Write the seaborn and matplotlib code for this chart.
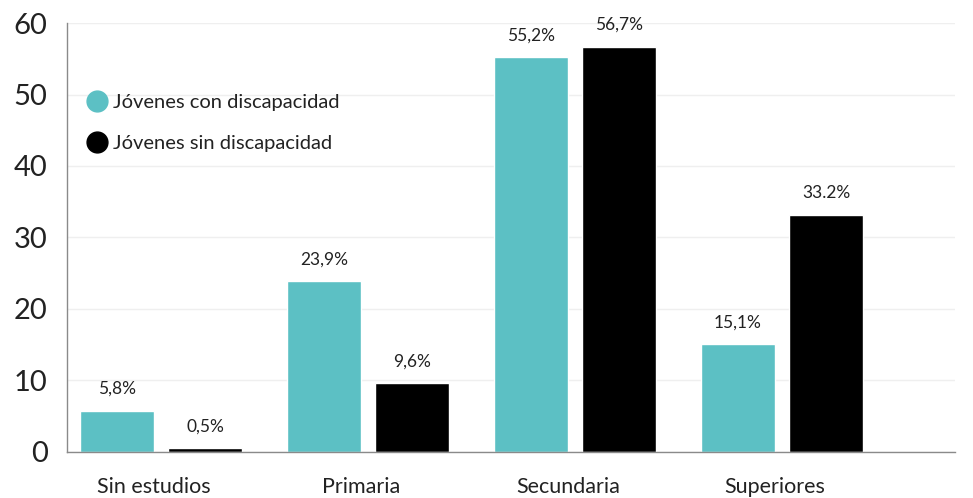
import matplotlib
matplotlib.use("Agg")
import matplotlib.pyplot as plt
import matplotlib.transforms as mtransforms
import seaborn as sns
import pandas as pd
from matplotlib.lines import Line2D

categories = ["Sin estudios", "Primaria", "Secundaria", "Superiores"]
series_names = ["Jóvenes con discapacidad", "Jóvenes sin discapacidad"]
con_disc = [5.8, 23.9, 55.2, 15.1]
sin_disc = [0.5, 9.6, 56.7, 33.2]
con_labels = ["5,8%", "23,9%", "55,2%", "15,1%"]
sin_labels = ["0,5%", "9,6%", "56,7%", "33.2%"]
yticks = [0, 10, 20, 30, 40, 50, 60]
colors = ["#5cc0c4", "#000000"]

df = pd.DataFrame({
    "cat": categories * 2,
    "serie": [series_names[0]] * 4 + [series_names[1]] * 4,
    "val": con_disc + sin_disc,
})

sns.set_theme(style="white")
plt.rcParams["font.family"] = ["Lato", "DejaVu Sans"]

fig = plt.figure(figsize=(9.73, 4.98), dpi=100)
ax = fig.add_axes([0.0689, 0.0924, 0.9126, 0.8614])

sns.barplot(data=df, x="cat", y="val", hue="serie", order=categories,
            hue_order=series_names, palette=colors, width=0.85, gap=0.16,
            saturation=1, legend=False, ax=ax)

ax.set_ylim(0, 60)
ax.set_xlim(-0.454, 3.836)
ax.set_yticks(yticks)
ax.set_yticklabels([str(t) for t in yticks], fontsize=21, color="#222222")
ax.tick_params(axis="y", length=0, pad=14)
ax.tick_params(axis="x", length=0, pad=18, labelsize=15.5, labelcolor="#222222")
offset = mtransforms.ScaledTranslation(-7 / 100, 0, fig.dpi_scale_trans)
for lbl in ax.get_xticklabels():
    lbl.set_transform(lbl.get_transform() + offset)
ax.set_xlabel("")
ax.set_ylabel("")
ax.yaxis.grid(True, color="#efefef", linewidth=1)
ax.set_axisbelow(True)
for s in ["top", "right"]:
    ax.spines[s].set_visible(False)
for s in ["left", "bottom"]:
    ax.spines[s].set_color("#8a8a8a")
    ax.spines[s].set_linewidth(1)

for cont, labels in zip(ax.containers, [con_labels, sin_labels]):
    ax.bar_label(cont, labels=labels, padding=10, fontsize=12.5, color="#222222")

handles = [Line2D([0], [0], marker="o", linestyle="", markersize=15,
                  markerfacecolor=c, markeredgecolor=c) for c in colors]
ax.legend(handles, series_names, loc="upper left", bbox_to_anchor=(0.0, 0.877),
          frameon=False, fontsize=14.5, labelspacing=1.2, handletextpad=0.2,
          handlelength=1.2, labelcolor="#222222")

fig.savefig("out.png", dpi=100)
